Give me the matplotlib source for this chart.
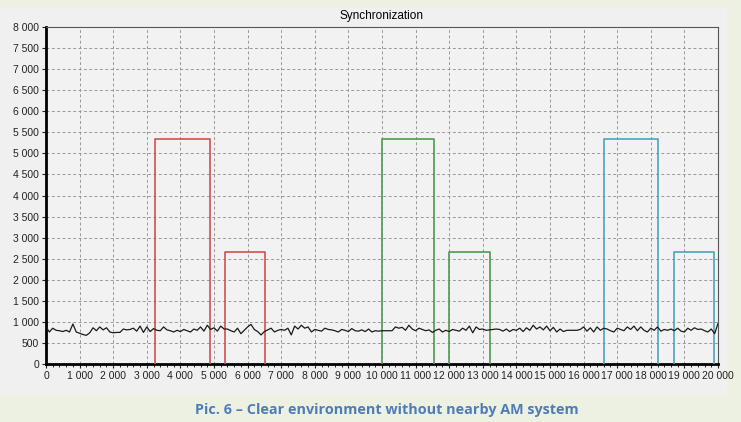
import matplotlib
matplotlib.use("Agg")
import matplotlib.pyplot as plt
from matplotlib.patches import Rectangle
from matplotlib.ticker import MultipleLocator, FuncFormatter

# pulse windows: start, end, height
pulse_start = [3250, 5330, 10000, 12000, 16620, 18680]
pulse_end = [4890, 6530, 11540, 13210, 18210, 19880]
pulse_height = [5330, 2670, 5330, 2670, 5330, 2670]
pulse_colors = ["#d05050", "#d05050", "#4e9a4e", "#4e9a4e", "#4aa3c0", "#4aa3c0"]

# background noise, one reading every 100 samples
noise_x = list(range(0, 20001, 100))
noise_y = [
    880, 760, 850, 800, 790, 770, 800, 760, 950, 760,
    730, 700, 680, 740, 860, 790, 880, 810, 860, 760,
    740, 750, 750, 830, 810, 820, 850, 780, 900, 750,
    880, 770, 840, 800, 790, 880, 810, 790, 760, 800,
    770, 820, 790, 760, 830, 800, 880, 780, 920, 820,
    860, 780, 900, 830, 830, 790, 760, 850, 720, 800,
    880, 940, 820, 770, 690, 770, 810, 850, 760, 800,
    820, 800, 850, 690, 900, 830, 920, 850, 880, 760,
    820, 800, 780, 850, 820, 810, 790, 760, 820, 800,
    770, 840, 790, 780, 810, 770, 830, 760, 790, 780,
    790, 790, 790, 790, 880, 850, 870, 800, 920, 830,
    790, 850, 820, 790, 810, 750, 800, 830, 760, 800,
    770, 820, 800, 780, 850, 800, 900, 740, 880, 820,
    830, 800, 810, 820, 830, 820, 780, 830, 770, 820,
    800, 850, 770, 860, 800, 920, 830, 880, 810, 900,
    790, 870, 760, 830, 770, 800, 800, 800, 800, 820,
    880, 780, 860, 760, 880, 800, 850, 830, 790, 760,
    850, 820, 790, 880, 820, 900, 790, 880, 800, 760,
    850, 800, 880, 780, 820, 800, 830, 790, 850, 780,
    760, 850, 800, 860, 820, 830, 790, 760, 830, 720,
    960,
]

plt.rcParams["font.family"] = ["Liberation Sans", "DejaVu Sans"]

fig = plt.figure(figsize=(7.41, 4.22), dpi=100, facecolor="#ecf1e2")
fig.patches.append(Rectangle((0, 27 / 422), 727 / 741, 387 / 422,
                             transform=fig.transFigure, facecolor="#f0f0f0",
                             edgecolor="none", zorder=-5))

ax = fig.add_axes([46 / 741, 58 / 422, 672 / 741, 337 / 422])
ax.set_zorder(2)
ax.set_facecolor("#f2f2f2")

for x0, x1, h, c in zip(pulse_start, pulse_end, pulse_height, pulse_colors):
    ax.plot([x0, x0, x1, x1], [0, h, h, 0], color=c, lw=1.2, zorder=3)

ax.plot(noise_x, noise_y, color="#1a1a1a", lw=0.9, zorder=4)

ax.set_xlim(0, 20000)
ax.set_ylim(0, 8000)
ax.xaxis.set_major_locator(MultipleLocator(1000))
ax.xaxis.set_minor_locator(MultipleLocator(200))
ax.yaxis.set_major_locator(MultipleLocator(500))
fmt = FuncFormatter(lambda v, p: f"{int(v):,}".replace(",", " "))
ax.xaxis.set_major_formatter(fmt)
ax.yaxis.set_major_formatter(fmt)
ax.tick_params(labelsize=7.5, length=3, width=0.8, colors="#222222", pad=2)
ax.tick_params(which="minor", length=2, width=0.6)
ax.grid(True, linestyle=(0, (3, 2.5)), color="#999999", lw=0.7)

ax.spines["left"].set_linewidth(2)
ax.spines["bottom"].set_linewidth(2)
ax.spines["top"].set_color("#555555")
ax.spines["right"].set_color("#555555")

ax.set_title("Synchronization", fontsize=8.5, pad=6)

fig.text(387 / 741, 1 - 410 / 422, "Pic. 6 \u2013 Clear environment without nearby AM system",
         ha="center", va="center", fontsize=10.4, fontweight="bold",
         color="#4f7cb8", family=["Open Sans", "DejaVu Sans"])

fig.savefig("out.png", dpi=100, facecolor=fig.get_facecolor())
